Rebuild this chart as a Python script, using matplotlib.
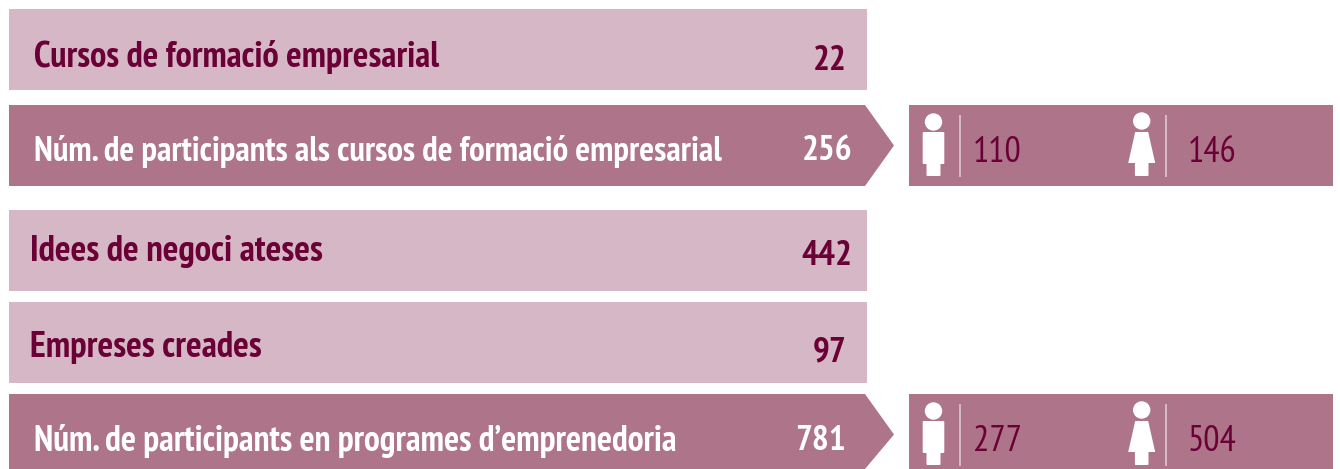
import matplotlib
matplotlib.use("Agg")
from matplotlib import font_manager as fm
from matplotlib import pyplot as plt
from matplotlib.patches import Circle, FancyBboxPatch, Polygon, Rectangle

labels = [
    "Cursos de formació empresarial",
    "Núm. de participants als cursos de formació empresarial",
    "Idees de negoci ateses",
    "Empreses creades",
    "Núm. de participants en programes d’emprenedoria",
]
totals = [22, 256, 442, 97, 781]
men = [None, 110, None, None, 277]
women = [None, 146, None, None, 504]

LIGHT = "#d5b7c5"
DARK = "#ad748a"
WINE = "#6a0035"
DIVIDER = "#dcc6d0"

# si no hi ha cap fosa estreta, es redueix la mida perque el text hi capiga
installed = {f.name for f in fm.fontManager.ttflist}
if "PT Sans Narrow" in installed:
    FONT = ["PT Sans Narrow", "DejaVu Sans"]
    label_size = [26.2, 25.1, 26.5, 26.5, 25.6]
    number_size = 25.5
    detail_size = 26
else:
    FONT = ["Liberation Sans", "DejaVu Sans"]
    label_size = [17.5, 18.4, 17.5, 17.5, 18]
    number_size = 21
    detail_size = 22

# posicions en pixels de cada fila
row_top = [9, 105, 210, 302, 394]
row_bottom = [90, 186, 291, 383, 469]
label_x = [34, 34, 30, 30, 34]
label_y = [57, 151, 251, 348, 441]
total_right = [847, 852, 852, 847, 846]
total_y = [61, 151, 256, 352, 441]

fig = plt.figure(figsize=(13.4, 4.69), dpi=100)
ax = fig.add_axes([0, 0, 1, 1])
ax.set_xlim(0, 1340)
ax.set_ylim(469, 0)
ax.axis("off")


def rounded(ax, x, y, w, h):
    ax.add_patch(FancyBboxPatch((x + 1, y + 1), w - 2, h - 2, boxstyle="round,pad=1",
                                fc="white", ec="none"))


def man_icon(ax, cx, top):
    ax.add_patch(Circle((cx, top + 9), 8.7, fc="white", ec="none"))
    rounded(ax, cx - 10.8, top + 19, 21.6, 32)
    rounded(ax, cx - 7, top + 50, 14, 13)


def woman_icon(ax, cx, top):
    ax.add_patch(Circle((cx, top + 8), 8.7, fc="white", ec="none"))
    ax.add_patch(Polygon([(cx - 6.5, top + 19), (cx + 6.5, top + 19), (cx + 13.5, top + 50),
                          (cx - 13.5, top + 50)], closed=True, fc="white", ec="none"))
    rounded(ax, cx - 6.8, top + 49, 13.6, 14)


for i, label in enumerate(labels):
    top, bottom = row_top[i], row_bottom[i]
    mid = top + 40.5
    has_detail = men[i] is not None
    if has_detail:
        ax.add_patch(Polygon([(9, top), (865, top), (894, mid), (865, bottom), (9, bottom)],
                             closed=True, fc=DARK, ec="none"))
        ax.add_patch(Rectangle((909, top), 424, bottom - top, fc=DARK, ec="none"))
        man_icon(ax, 933.5, top + 8)
        woman_icon(ax, 1141.7, top + 8)
        ax.plot([960, 960], [top + 10, top + 72], color=DIVIDER, lw=1.2, solid_capstyle="butt")
        ax.plot([1166, 1166], [top + 10, top + 72], color=DIVIDER, lw=1.2, solid_capstyle="butt")
        ax.text(973, mid + 7, str(men[i]), color=WINE, fontsize=detail_size, family=FONT,
                ha="left", va="center")
        ax.text(1188, mid + 7, str(women[i]), color=WINE, fontsize=detail_size, family=FONT,
                ha="left", va="center")
    else:
        ax.add_patch(Rectangle((9, top), 858, bottom - top, fc=LIGHT, ec="none"))

    color = "white" if has_detail else WINE
    ax.text(label_x[i], label_y[i], label, color=color, fontsize=label_size[i], family=FONT,
            fontweight="bold", ha="left", va="center")
    ax.text(total_right[i], total_y[i], str(totals[i]), color=color, fontsize=number_size,
            family=FONT, fontweight="bold", ha="right", va="center")

fig.savefig("out.png", dpi=100)
